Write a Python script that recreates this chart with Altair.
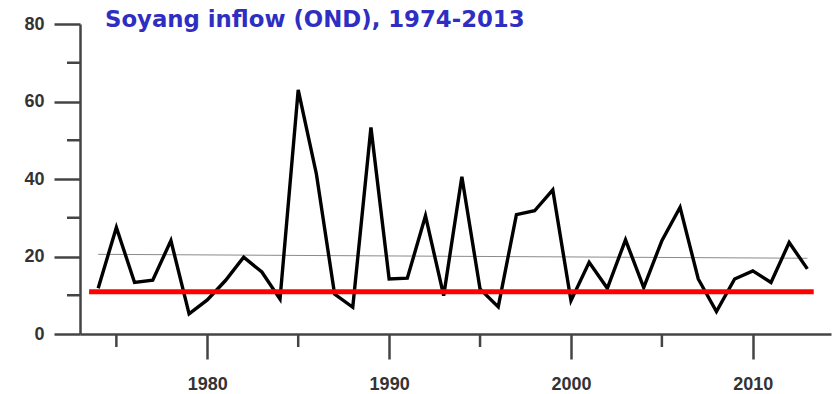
import altair as alt
import pandas as pd

# October-December inflow to Soyang reservoir, one value per year
years = list(range(1974, 2014))
inflow = [11.8, 27.5, 13.3, 13.9, 24.1, 5.2, 8.8, 13.8, 19.8, 16.0,
          9.0, 63.0, 41.3, 10.3, 6.9, 53.3, 14.2, 14.4, 30.5, 9.9,
          40.6, 11.6, 7.0, 30.8, 31.8, 37.2, 8.6, 18.5, 11.8, 24.3,
          12.0, 24.1, 32.7, 14.2, 5.8, 14.2, 16.3, 13.3, 23.6, 16.8]

# horizontal reference level (red bar)
threshold_level = [10.9]
threshold_start = [1973.5]
threshold_end = [2013.35]

# axis ticks
x_major = [1980, 1990, 2000, 2010]
x_minor = [1975, 1985, 1995, 2005]
y_major = [0, 20, 40, 60, 80]
y_minor = [10, 30, 50, 70]

W, H = 751, 310
AXIS_COLOR = "#444444"

df = pd.DataFrame({"year": years, "inflow": inflow})
ref = pd.DataFrame({"x": threshold_start, "x2": threshold_end, "y": threshold_level})

x_scale = alt.Scale(domain=[1973, 2014.3], nice=False, zero=False)
y_scale = alt.Scale(domain=[0, 80], nice=False)

label_style = dict(
    labelFont="Liberation Sans",
    labelFontSize=18,
    labelFontWeight="bold",
    labelColor="#333333",
    labelFlush=False,
    tickColor=AXIS_COLOR,
    tickWidth=2.5,
    domainColor=AXIS_COLOR,
    domainWidth=2.5,
    grid=False,
    title=None,
)

x_axis = alt.Axis(values=x_major, format="d", tickSize=25, labelPadding=16, **label_style)
y_axis = alt.Axis(values=y_major, tickSize=26, labelPadding=10, **label_style)

series = alt.Chart(df).mark_line(color="black", strokeWidth=3.4).encode(
    x=alt.X("year:Q", scale=x_scale, axis=x_axis),
    y=alt.Y("inflow:Q", scale=y_scale, axis=y_axis),
)

trend = (
    alt.Chart(df)
    .transform_regression("year", "inflow")
    .mark_line(color="#8a8a8a", strokeWidth=1)
    .encode(
        x=alt.X("year:Q", scale=x_scale, title=None),
        y=alt.Y("inflow:Q", scale=y_scale, title=None),
    )
)

level = alt.Chart(ref).mark_rule(color="#ff0000", strokeWidth=5).encode(
    x=alt.X("x:Q", scale=x_scale, title=None),
    x2="x2:Q",
    y=alt.Y("y:Q", scale=y_scale, title=None),
)

# minor ticks drawn as short rules just outside the plot frame
y_minor_ticks = alt.Chart(pd.DataFrame({"v": y_minor})).mark_rule(
    color=AXIS_COLOR, strokeWidth=2.5
).encode(
    y=alt.Y("v:Q", scale=y_scale, title=None),
    x=alt.value(-13),
    x2=alt.value(0),
)

x_minor_ticks = alt.Chart(pd.DataFrame({"v": x_minor})).mark_rule(
    color=AXIS_COLOR, strokeWidth=2.5
).encode(
    x=alt.X("v:Q", scale=x_scale, title=None),
    y=alt.value(H),
    y2=alt.value(H + 13),
)

chart = (
    alt.layer(trend, series, level, y_minor_ticks, x_minor_ticks)
    .properties(
        width=W,
        height=H,
        autosize=alt.AutoSizeParams(type="none"),
        padding={"left": 80, "top": 24, "right": 2, "bottom": 60},
        background="white",
        title=alt.TitleParams(
            "Soyang inflow (OND), 1974-2013",
            anchor="start",
            frame="group",
            orient="top",
            font="DejaVu Sans",
            fontSize=22.8,
            fontWeight="bold",
            color="#2e2ec2",
            baseline="alphabetic",
            dx=25,
            offset=-34.5,
        ),
    )
    .configure_view(stroke=None)
)

chart.save("out.html", embed_options={"renderer": "svg", "actions": False})
